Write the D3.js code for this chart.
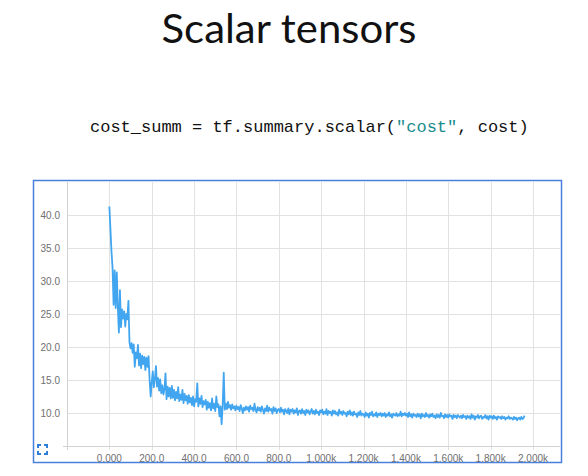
<!DOCTYPE html>
<html>
<head>
<meta charset="utf-8">
<script src="https://cdn.jsdelivr.net/npm/d3@7"></script>
<style>
  body { margin: 0; background: #fff; }
  svg { display: block; }
</style>
</head>
<body>
<svg width="588" height="476"></svg>
<script>
// chart data (one value every 5 steps)
var stepInterval = 5;
var cost = [
  41.3, 37.9, 34.5, 32.0, 26.4, 31.6, 25.9, 31.3, 26.1, 22.2,
  28.6, 23.0, 25.7, 24.3, 25.4, 23.1, 25.0, 24.2, 27.0, 20.7,
  19.8, 20.6, 19.1, 20.4, 17.0, 19.2, 18.3, 20.3, 17.2, 19.0,
  16.8, 18.7, 17.4, 18.5, 16.5, 18.4, 17.0, 18.6, 15.0, 12.5,
  14.6, 16.3, 13.9, 15.2, 17.1, 14.0, 15.3, 13.4, 15.1, 13.0,
  14.2, 12.8, 13.6, 16.0, 12.1, 14.0, 12.5, 13.8, 12.2, 14.1,
  12.3, 13.5, 11.9, 13.2, 12.2, 13.9, 11.8, 12.8, 12.0, 13.5,
  11.5, 12.9, 11.9, 12.6, 11.4, 12.7, 11.6, 12.3, 11.2, 12.5,
  11.0, 12.1, 11.7, 14.5, 11.0, 12.2, 11.4, 12.6, 10.9, 11.8,
  11.3, 12.0, 10.5, 11.7, 10.8, 11.5, 10.4, 12.2, 10.7, 11.4,
  10.3, 12.5, 10.9, 11.3, 9.5, 11.0, 8.3, 11.2, 16.1, 10.5,
  11.4, 10.6, 11.7, 10.8, 11.2, 10.5, 11.3, 10.7, 11.0, 10.4,
  11.1, 10.6, 10.9, 10.3, 11.2, 10.7, 10.0, 10.8, 10.4, 11.0,
  10.5, 10.9, 10.2, 11.1, 10.6, 10.8, 10.3, 11.4, 10.5, 10.1,
  10.9, 10.4, 10.8, 10.2, 11.0, 10.5, 9.9, 10.7, 10.3, 11.1,
  10.2, 10.8, 10.4, 10.6, 9.9, 10.9, 10.3, 10.7, 10.0, 10.5,
  10.6, 10.1, 10.8, 10.2, 10.5, 9.8, 10.6, 10.3, 10.0, 10.7,
  9.8, 10.5, 10.2, 10.6, 9.9, 10.4, 10.1, 10.7, 9.7, 10.3,
  10.4, 9.9, 10.6, 10.0, 10.3, 9.7, 10.5, 10.1, 10.4, 9.8,
  10.2, 10.6, 9.9, 10.3, 9.8, 10.5, 10.0, 10.2, 9.7, 10.4,
  10.1, 10.5, 9.8, 10.2, 9.9, 10.6, 9.7, 10.3, 10.0, 10.2,
  9.6, 10.4, 9.9, 10.3, 9.8, 10.1, 9.6, 10.5, 9.9, 10.2,
  9.7, 10.3, 9.9, 10.0, 9.5, 10.2, 9.8, 10.4, 9.7, 10.1,
  9.6, 10.2, 9.8, 9.9, 9.4, 10.1, 9.7, 10.3, 9.6, 9.9,
  9.8, 9.4, 10.1, 9.6, 9.9, 9.3, 10.0, 9.7, 10.2, 9.5,
  9.8, 9.6, 10.1, 9.4, 9.9, 9.7, 10.0, 9.5, 9.9, 9.6,
  10.0, 9.4, 9.8, 9.6, 10.1, 9.5, 9.8, 9.3, 9.9, 9.7,
  9.6, 10.0, 9.5, 9.8, 9.6, 10.2, 9.5, 9.9, 9.7, 10.0,
  9.6, 9.9, 9.4, 10.1, 9.5, 9.8, 9.3, 9.9, 9.6, 9.7,
  9.4, 9.9, 9.5, 9.8, 9.2, 9.9, 9.5, 9.7, 9.4, 10.0,
  9.5, 9.7, 9.3, 9.8, 9.5, 9.9, 9.4, 9.6, 9.2, 9.8,
  9.4, 9.7, 9.3, 10.0, 9.5, 9.6, 9.2, 9.8, 9.4, 9.7,
  9.3, 9.8, 9.5, 9.6, 9.1, 9.7, 9.4, 9.6, 9.2, 9.7,
  9.5, 9.3, 9.6, 9.2, 9.7, 9.4, 9.5, 9.1, 9.6, 9.3,
  9.5, 9.1, 9.8, 9.3, 9.6, 9.0, 9.5, 9.3, 9.7, 9.2,
  9.5, 9.6, 9.1, 9.4, 9.3, 9.7, 9.2, 9.5, 9.0, 9.6,
  9.3, 9.5, 9.1, 9.6, 9.2, 9.4, 9.0, 9.5, 9.3, 9.4,
  9.1, 9.5, 9.2, 9.4, 9.0, 9.3, 9.2, 9.5, 9.1, 9.3,
  9.2, 9.0, 9.4, 9.1, 9.3, 8.9, 9.2, 9.3, 9.0, 9.4,
  9.1, 9.2, 9.6
];

var xTicks = [0, 200, 400, 600, 800, 1000, 1200, 1400, 1600, 1800, 2000];
var xTickLabels = ["0.000", "200.0", "400.0", "600.0", "800.0", "1.000k", "1.200k", "1.400k", "1.600k", "1.800k", "2.000k"];
var yTicks = [10, 15, 20, 25, 30, 35, 40];

var svg = d3.select("svg");

// slide title
svg.append("text")
  .attr("x", 289)
  .attr("y", 43)
  .attr("text-anchor", "middle")
  .attr("textLength", 255)
  .attr("lengthAdjust", "spacingAndGlyphs")
  .style("font-family", "Lato, 'Open Sans', sans-serif")
  .style("font-size", "41px")
  .style("fill", "#111")
  .text("Scalar tensors");

// code line
var code = svg.append("text")
  .attr("x", 90)
  .attr("y", 132)
  .style("font-family", "'Liberation Mono', 'DejaVu Sans Mono', monospace")
  .style("font-size", "17px")
  .style("fill", "#111")
  .attr("xml:space", "preserve");
code.append("tspan").text("cost_summ = tf.summary.scalar(");
code.append("tspan").style("fill", "#1a8c8c").text("\"cost\"");
code.append("tspan").text(", cost)");

// framed screenshot box
svg.append("rect")
  .attr("x", 33.5)
  .attr("y", 180.5)
  .attr("width", 528)
  .attr("height", 282)
  .attr("fill", "#fff")
  .attr("stroke", "#4a80dc")
  .attr("stroke-width", 1.5);

var x = d3.scaleLinear().domain([-200, 2000]).range([67, 533]);
var y = d3.scaleLinear().domain([5, 45]).range([446, 182]);
var plotRight = 560;

var g = svg.append("g");

// horizontal grid
g.selectAll(".hgrid")
  .data(yTicks)
  .enter().append("line")
  .attr("class", "hgrid")
  .attr("x1", x(-200))
  .attr("x2", plotRight)
  .attr("y1", d => y(d) + 0.5)
  .attr("y2", d => y(d) + 0.5)
  .style("stroke", "#e2e2e2");

// vertical grid
g.selectAll(".vgrid")
  .data(xTicks)
  .enter().append("line")
  .attr("class", "vgrid")
  .attr("x1", d => Math.round(x(d)) + 0.5)
  .attr("x2", d => Math.round(x(d)) + 0.5)
  .attr("y1", y(45))
  .attr("y2", y(5) + 4)
  .style("stroke", "#e2e2e2");

// axis lines
g.append("line")
  .attr("x1", 67.5).attr("x2", 67.5)
  .attr("y1", y(45)).attr("y2", y(5) + 4)
  .style("stroke", "#d2d2d2");
g.append("line")
  .attr("x1", 63).attr("x2", plotRight)
  .attr("y1", y(5) + 0.5).attr("y2", y(5) + 0.5)
  .style("stroke", "#d2d2d2");

// tick labels
g.selectAll(".ylab")
  .data(yTicks)
  .enter().append("text")
  .attr("x", 60)
  .attr("y", d => y(d) + 3.5)
  .attr("text-anchor", "end")
  .style("font-family", "'Liberation Sans', Arial, sans-serif")
  .style("font-size", "10px")
  .style("fill", "#6f6f6f")
  .text(d => d.toFixed(1));

g.selectAll(".xlab")
  .data(xTicks)
  .enter().append("text")
  .attr("x", d => x(d))
  .attr("y", 462)
  .attr("text-anchor", "middle")
  .style("font-family", "'Liberation Sans', Arial, sans-serif")
  .style("font-size", "10px")
  .style("fill", "#6f6f6f")
  .text((d, i) => xTickLabels[i]);

// cost curve
var line = d3.line()
  .x((d, i) => x(i * stepInterval))
  .y(d => y(d));

g.append("path")
  .datum(cost)
  .attr("d", line)
  .attr("fill", "none")
  .attr("stroke", "#42a5f0")
  .attr("stroke-width", 1.8)
  .attr("stroke-linejoin", "round");

// little expand icon in the corner
var icon = svg.append("g")
  .attr("transform", "translate(37,444)")
  .attr("fill", "none")
  .attr("stroke", "#2f7fd8")
  .attr("stroke-width", 2);
icon.append("path").attr("d", "M1,4 V1 H4");
icon.append("path").attr("d", "M7,1 H10 V4");
icon.append("path").attr("d", "M10,7 V10 H7");
icon.append("path").attr("d", "M4,10 H1 V7");
</script>
</body>
</html>
